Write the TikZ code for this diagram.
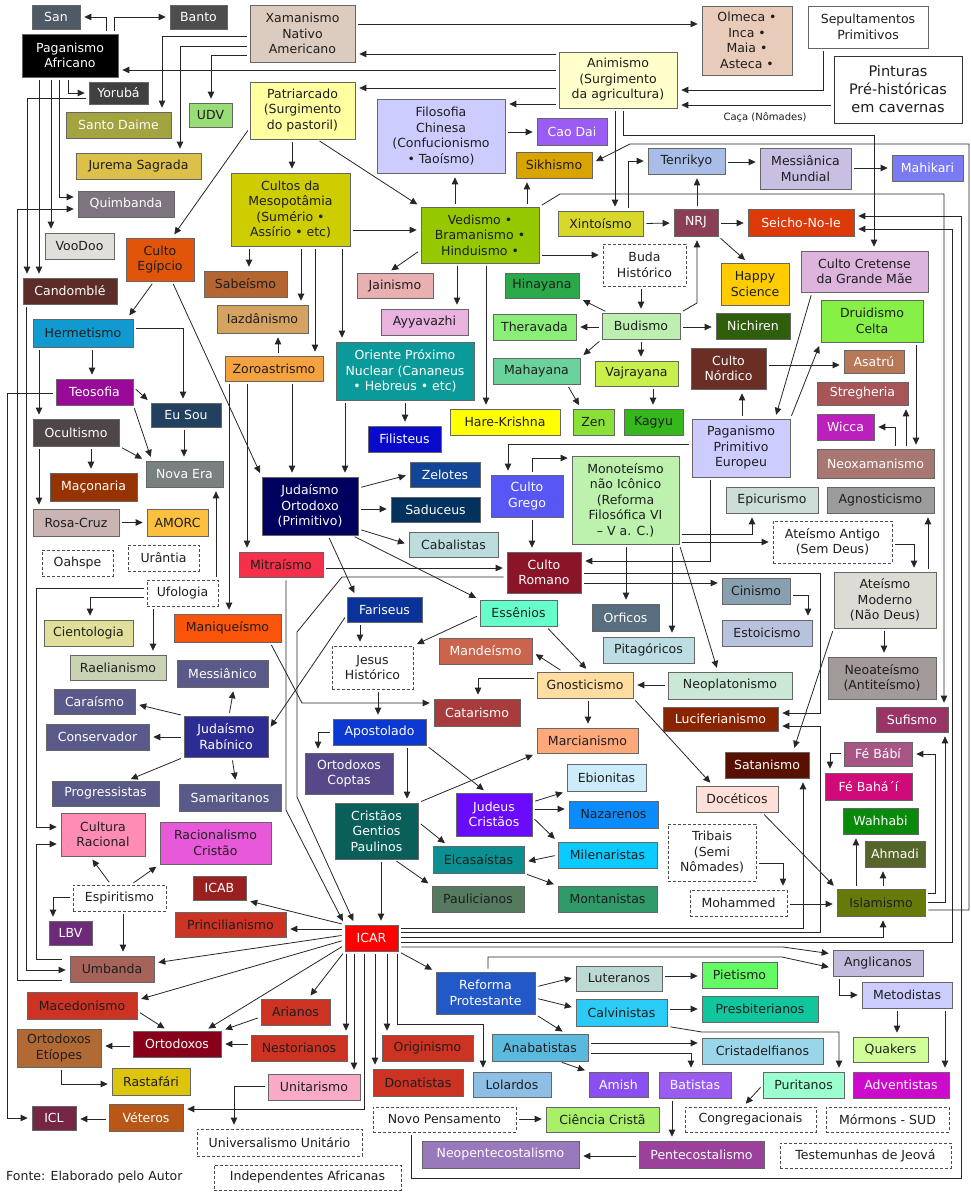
\documentclass[tikz,border=0pt]{standalone}
\usepackage{fontspec}
\setmainfont{DejaVu Sans}
\usetikzlibrary{arrows.meta}
\definecolor{tdk}{HTML}{1E1E1E}
\definecolor{lnc}{HTML}{262626}
\newcommand\relnode[8]{\definecolor{bxfill}{HTML}{#6}\node[box,fill=bxfill,text=#7,minimum width={(#4-#2)*1pt},minimum height={(#5-#3)*1pt}] (#1) at ({(#2+#4)/2},{(#3+#5)/2}) {#8};}
\newcommand\reldash[6]{\node[dbox,minimum width={(#4-#2)*1pt},minimum height={(#5-#3)*1pt}] (#1) at ({(#2+#4)/2},{(#3+#5)/2}) {#6};}
\begin{document}
\begin{tikzpicture}[x=1pt,y=-1pt,
  box/.style={draw=black!60,line width=0.7pt,inner sep=1pt,align=center,font=\fontsize{12.5}{15.5}\selectfont},
  dbox/.style={box,fill=white,text=tdk,draw=black!70,dash pattern=on 3pt off 2pt},
  arr/.style={draw=lnc,line width=0.8pt,-{Triangle[length=7pt,width=6.5pt]},shorten >=4pt,shorten <=3pt},
  ln/.style={draw=lnc,line width=0.8pt,shorten <=3pt}]
\fill[white] (0,0) rectangle (971,1192);
\useasboundingbox (0,0) rectangle (971,1192);
% ---------- nodes ----------
\relnode{san}{32}{5}{80}{29}{4F5A66}{white}{San}
\relnode{banto}{170}{5}{227}{29}{4D4D4D}{white}{Banto}
\relnode{pag}{22}{34}{118}{77}{000000}{white}{Paganismo\\Africano}
\relnode{xam}{250}{5}{355}{62}{DCCBBF}{tdk}{Xamanismo\\Nativo\\Americano}
\relnode{olm}{702}{6}{792}{75}{E9CBB9}{tdk}{Olmeca •\\Inca •\\Maia •\\Asteca •}
\relnode{sep}{808}{6}{928}{48}{FFFFFF}{tdk}{Sepultamentos\\Primitivos}
\node[box,fill=white,text=tdk,draw=black!80,minimum width=128pt,minimum height=67pt,font=\fontsize{14.5}{18}\selectfont] (pint) at (898,89.5) {Pinturas\\Pré-históricas\\em cavernas};
\relnode{anim}{559}{52}{677}{108}{FFFFCC}{tdk}{Animismo\\(Surgimento\\da agricultura)}
\relnode{yoruba}{89}{82}{148}{104}{404040}{white}{Yorubá}
\relnode{udv}{189}{103}{232}{127}{99DD77}{tdk}{UDV}
\relnode{santo}{66}{112}{171}{138}{A3A33F}{white}{Santo Daime}
\relnode{patr}{250}{82}{355}{139}{FFFFA0}{tdk}{Patriarcado\\(Surgimento\\do pastoril)}
\relnode{filchi}{377}{99}{505}{173}{CCCCFF}{tdk}{Filosofia\\Chinesa\\(Confucionismo\\• Taoísmo)}
\relnode{caodai}{537}{118}{607}{145}{9A5CF5}{white}{Cao Dai}
\relnode{sikh}{516}{152}{592}{178}{D9A300}{tdk}{Sikhismo}
\relnode{tenri}{648}{148}{725}{174}{A8BDE8}{tdk}{Tenrikyo}
\relnode{messm}{760}{148}{851}{189}{C9BFE3}{tdk}{Messiânica\\Mundial}
\relnode{mahik}{892}{155}{963}{181}{7A7AF5}{white}{Mahikari}
\relnode{jurema}{76}{153}{201}{179}{DCC04A}{tdk}{Jurema Sagrada}
\relnode{mesop}{231}{173}{350}{246}{CDCD00}{tdk}{Cultos da\\Mesopotâmia\\(Sumério •\\Assírio • etc)}
\relnode{quimb}{78}{191}{174}{217}{7D7480}{white}{Quimbanda}
\relnode{vedismo}{421}{207}{539}{263}{96C800}{tdk}{Vedismo •\\Bramanismo •\\Hinduismo •}
\relnode{xinto}{558}{211}{643}{236}{D8D82A}{tdk}{Xintoísmo}
\relnode{nrj}{674}{209}{718}{236}{8A3F55}{white}{NRJ}
\relnode{seicho}{748}{209}{854}{236}{DD3A0A}{white}{Seicho-No-Ie}
\relnode{voodoo}{45}{233}{114}{259}{E0E0D8}{tdk}{VooDoo}
\relnode{egip}{126}{238}{194}{281}{E0550A}{tdk}{Culto\\Egípcio}
\reldash{buda}{603}{244}{686}{286}{Buda\\Histórico}
\relnode{cretense}{801}{251}{928}{292}{DCB4DC}{tdk}{Culto Cretense\\da Grande Mãe}
\relnode{happy}{721}{263}{789}{305}{FFCC00}{tdk}{Happy\\Science}
\relnode{sabe}{204}{271}{287}{297}{B5652F}{tdk}{Sabeísmo}
\relnode{jain}{357}{273}{433}{298}{E8B0B0}{tdk}{Jainismo}
\relnode{hinay}{505}{273}{579}{298}{2AA84A}{tdk}{Hinayana}
\relnode{cand}{23}{278}{117}{304}{5C2C28}{white}{Candomblé}
\relnode{druid}{821}{300}{923}{342}{86F046}{tdk}{Druidismo\\Celta}
\relnode{iazd}{217}{305}{308}{333}{D5A35F}{tdk}{Iazdânismo}
\relnode{ayya}{381}{309}{468}{335}{E9B2DF}{tdk}{Ayyavazhi}
\relnode{thera}{493}{314}{576}{340}{8AEE78}{tdk}{Theravada}
\relnode{budismo}{602}{313}{680}{339}{BDF0B0}{tdk}{Budismo}
\relnode{nichiren}{716}{313}{790}{339}{2F5F0A}{white}{Nichiren}
\relnode{herm}{33}{319}{133}{347}{109AD0}{tdk}{Hermetismo}
\relnode{oriente}{336}{342}{474}{400}{0A9A9A}{white}{Oriente Próximo\\Nuclear (Cananeus\\• Hebreus • etc)}
\relnode{nordico}{691}{348}{766}{389}{6A2E25}{white}{Culto\\Nórdico}
\relnode{asatru}{844}{350}{904}{373}{B87858}{white}{Asatrú}
\relnode{zoro}{225}{356}{323}{381}{F4A23F}{tdk}{Zoroastrismo}
\relnode{mahay}{493}{358}{580}{384}{6AD39C}{tdk}{Mahayana}
\relnode{vajra}{595}{361}{678}{386}{C9F04A}{tdk}{Vajrayana}
\relnode{strega}{817}{382}{908}{405}{A85558}{white}{Stregheria}
\relnode{teos}{56}{379}{133}{405}{9A0A9A}{white}{Teosofia}
\relnode{euSou}{151}{403}{221}{427}{22405F}{white}{Eu Sou}
\relnode{hare}{450}{409}{560}{435}{FFFF00}{tdk}{Hare-Krishna}
\relnode{zen}{573}{409}{614}{435}{8AE036}{tdk}{Zen}
\relnode{kagyu}{624}{409}{683}{435}{36B81C}{tdk}{Kagyu}
\relnode{wicca}{817}{414}{874}{440}{BC20BC}{white}{Wicca}
\relnode{ocult}{33}{419}{119}{446}{4F4747}{white}{Ocultismo}
\relnode{ppe}{692}{419}{790}{477}{CCCCFF}{tdk}{Paganismo\\Primitivo\\Europeu}
\relnode{filis}{368}{426}{441}{452}{0A0ACC}{white}{Filisteus}
\relnode{neox}{817}{449}{934}{478}{A97771}{white}{Neoxamanismo}
\relnode{monot}{572}{456}{679}{544}{BCF2AE}{tdk}{Monoteísmo\\não Icônico\\(Reforma\\Filosófica VI\\– V a. C.)}
\relnode{novaEra}{146}{461}{223}{487}{788080}{white}{Nova Era}
\relnode{zelot}{410}{462}{480}{487}{124596}{white}{Zelotes}
\relnode{maco}{50}{473}{137}{501}{973300}{white}{Maçonaria}
\relnode{cgrego}{491}{475}{563}{517}{5757F5}{white}{Culto\\Grego}
\relnode{judort}{262}{477}{358}{535}{00005F}{white}{Judaísmo\\Ortodoxo\\(Primitivo)}
\relnode{epic}{726}{487}{818}{513}{CCDCD6}{tdk}{Epicurismo}
\relnode{agnos}{827}{487}{934}{513}{9C9C9C}{tdk}{Agnosticismo}
\relnode{sadu}{391}{497}{480}{522}{03325F}{white}{Saduceus}
\relnode{rosa}{33}{509}{119}{536}{C9B3B3}{tdk}{Rosa-Cruz}
\relnode{amorc}{147}{509}{208}{536}{FDBF3E}{tdk}{AMORC}
\reldash{ateAnt}{773}{521}{892}{563}{Ateísmo Antigo\\(Sem Deus)}
\relnode{cabal}{409}{532}{498}{557}{BCDCDE}{tdk}{Cabalistas}
\reldash{urant}{128}{545}{199}{571}{Urântia}
\reldash{oahspe}{42}{550}{113}{576}{Oahspe}
\relnode{mitra}{239}{552}{323}{577}{F5304A}{tdk}{Mitraísmo}
\relnode{cromano}{507}{552}{581}{593}{8A1428}{white}{Culto\\Romano}
\relnode{ateMod}{834}{572}{936}{628}{DCDCD4}{tdk}{Ateísmo\\Moderno\\(Não Deus)}
\relnode{cinismo}{722}{578}{790}{604}{88A0B0}{tdk}{Cinismo}
\reldash{ufol}{147}{580}{218}{606}{Ufologia}
\relnode{fari}{347}{597}{422}{622}{0A3399}{white}{Fariseus}
\relnode{essen}{480}{600}{557}{626}{66FFCC}{tdk}{Essênios}
\relnode{orficos}{592}{604}{659}{631}{566E80}{white}{Orficos}
\relnode{manique}{174}{614}{281}{642}{F9540A}{tdk}{Maniqueísmo}
\relnode{cientol}{44}{620}{133}{646}{E0E09A}{tdk}{Cientologia}
\relnode{estoic}{722}{620}{812}{646}{B9C2DD}{tdk}{Estoicismo}
\relnode{pitag}{603}{637}{694}{663}{BCDDE4}{tdk}{Pitagóricos}
\relnode{mande}{439}{638}{532}{664}{CA644C}{white}{Mandeísmo}
\reldash{jesus}{332}{646}{413}{689}{Jesus\\Histórico}
\relnode{raeli}{70}{655}{166}{680}{C9D3B4}{tdk}{Raelianismo}
\relnode{neoate}{828}{657}{936}{699}{A39A9A}{tdk}{Neoateísmo\\(Antiteísmo)}
\relnode{messico}{177}{660}{268}{687}{5A5A8A}{white}{Messiânico}
\relnode{gnost}{537}{672}{633}{698}{FFDCA0}{tdk}{Gnosticismo}
\relnode{neoplat}{668}{672}{792}{699}{CBE8D6}{tdk}{Neoplatonismo}
\relnode{carai}{54}{689}{135}{714}{5A5A8A}{white}{Caraísmo}
\relnode{catar}{434}{699}{520}{726}{A83C3C}{white}{Catarismo}
\relnode{lucif}{663}{707}{778}{731}{8A2300}{white}{Luciferianismo}
\relnode{sufi}{876}{707}{948}{732}{9A3366}{white}{Sufismo}
\relnode{judrab}{184}{716}{268}{757}{2C2C94}{white}{Judaísmo\\Rabínico}
\relnode{apost}{333}{719}{426}{745}{0A38D0}{white}{Apostolado}
\relnode{conserv}{46}{724}{149}{750}{5A5A8A}{white}{Conservador}
\relnode{marci}{537}{728}{638}{753}{FFA87A}{tdk}{Marcianismo}
\relnode{febabi}{844}{742}{912}{766}{A85585}{white}{Fé Bábí}
\relnode{satan}{725}{752}{809}{778}{581000}{white}{Satanismo}
\relnode{coptas}{305}{753}{393}{794}{574889}{white}{Ortodoxos\\Coptas}
\relnode{ebion}{567}{764}{646}{791}{CDECFB}{tdk}{Ebionitas}
\relnode{febahai}{825}{773}{912}{800}{D00A78}{white}{Fé Bahá´í}
\relnode{progr}{52}{781}{159}{806}{5A5A8A}{white}{Progressistas}
\relnode{samar}{179}{784}{281}{811}{5A5A8A}{white}{Samaritanos}
\relnode{docet}{696}{786}{778}{812}{FFE0D8}{tdk}{Docéticos}
\relnode{judcri}{456}{793}{532}{836}{6A0AFF}{white}{Judeus\\Cristãos}
\relnode{nazar}{569}{801}{658}{828}{0A8CFF}{tdk}{Nazarenos}
\relnode{cristG}{335}{803}{418}{859}{0A5F5A}{white}{Cristãos\\Gentios\\Paulinos}
\relnode{wahh}{843}{808}{918}{834}{0A8A0A}{white}{Wahhabi}
\relnode{cultRac}{61}{813}{145}{856}{FF8CB4}{tdk}{Cultura\\Racional}
\relnode{racCri}{160}{822}{271}{864}{E859D9}{tdk}{Racionalismo\\Cristão}
\reldash{tribais}{668}{824}{756}{881}{Tribais\\(Semi\\Nômades)}
\relnode{ahmadi}{865}{841}{925}{867}{55662A}{white}{Ahmadi}
\relnode{milen}{558}{842}{657}{868}{0ACAFF}{tdk}{Milenaristas}
\relnode{elcas}{433}{846}{524}{873}{0A9090}{tdk}{Elcasaístas}
\relnode{icab}{193}{876}{246}{900}{9A1F1F}{white}{ICAB}
\reldash{espir}{73}{885}{166}{911}{Espiritismo}
\relnode{paulic}{432}{886}{524}{912}{557A60}{tdk}{Paulicianos}
\relnode{montan}{558}{886}{657}{912}{2F9A6A}{tdk}{Montanistas}
\relnode{islam}{837}{889}{925}{916}{667A0A}{tdk}{Islamismo}
\reldash{moham}{690}{890}{787}{916}{Mohammed}
\relnode{princ}{175}{912}{286}{937}{CC3322}{tdk}{Princilianismo}
\relnode{icar}{345}{925}{398}{951}{FF0000}{white}{ICAR}
\relnode{lbv}{49}{921}{92}{945}{6C2A78}{white}{LBV}
\relnode{anglic}{833}{950}{923}{976}{C3BBDC}{tdk}{Anglicanos}
\relnode{umb}{70}{956}{154}{982}{A7625A}{tdk}{Umbanda}
\relnode{pietis}{702}{962}{777}{988}{63FB63}{tdk}{Pietismo}
\relnode{lutera}{576}{966}{662}{991}{BCD9D3}{tdk}{Luteranos}
\relnode{reforma}{436}{972}{535}{1014}{2258C8}{white}{Reforma\\Protestante}
\relnode{metod}{862}{982}{952}{1008}{CCCCFF}{tdk}{Metodistas}
\relnode{macedo}{27}{992}{137}{1019}{CC3322}{tdk}{Macedonismo}
\relnode{presb}{702}{996}{818}{1022}{11C59D}{tdk}{Presbiterianos}
\relnode{arian}{261}{999}{330}{1025}{CC3322}{tdk}{Arianos}
\relnode{calvin}{576}{999}{667}{1026}{2ACBF7}{tdk}{Calvinistas}
\relnode{ortodx}{133}{1031}{221}{1057}{88001A}{white}{Ortodoxos}
\relnode{etiop}{17}{1029}{101}{1067}{B26A35}{tdk}{Ortodoxos\\Etíopes}
\relnode{origin}{382}{1035}{473}{1061}{CC3322}{tdk}{Originismo}
\relnode{anabat}{492}{1034}{588}{1061}{5ABADE}{tdk}{Anabatistas}
\relnode{nestor}{251}{1035}{347}{1061}{CC3322}{tdk}{Nestorianos}
\relnode{quaker}{853}{1037}{928}{1062}{D0FF99}{tdk}{Quakers}
\relnode{cristad}{702}{1038}{823}{1064}{9AD6EA}{tdk}{Cristadelfianos}
\relnode{rasta}{112}{1068}{190}{1095}{DCC50A}{tdk}{Rastafári}
\relnode{donat}{373}{1069}{463}{1096}{CC3322}{tdk}{Donatistas}
\relnode{lolard}{473}{1072}{551}{1097}{8CBEE6}{tdk}{Lolardos}
\relnode{amish}{589}{1072}{648}{1097}{8A4FF0}{white}{Amish}
\relnode{batist}{659}{1072}{731}{1098}{9A5CF0}{white}{Batistas}
\relnode{purit}{763}{1072}{844}{1098}{9CFFD0}{tdk}{Puritanos}
\relnode{advent}{853}{1072}{949}{1098}{CC0ACC}{white}{Adventistas}
\relnode{unitar}{268}{1074}{360}{1100}{F8AAC6}{tdk}{Unitarismo}
\relnode{vetero}{109}{1104}{183}{1131}{B95816}{white}{Véteros}
\relnode{icl}{32}{1106}{76}{1130}{752546}{white}{ICL}
\reldash{novoP}{373}{1107}{516}{1132}{Novo Pensamento}
\relnode{ciencia}{546}{1107}{659}{1132}{A9EF6A}{tdk}{Ciência Cristã}
\reldash{congr}{685}{1107}{816}{1132}{Congregacionais}
\reldash{mormon}{826}{1107}{949}{1132}{Mórmons - SUD}
\reldash{univ}{197}{1129}{362}{1156}{Universalismo Unitário}
\relnode{neopent}{422}{1141}{579}{1168}{9A78BC}{white}{Neopentecostalismo}
\relnode{pentec}{639}{1141}{764}{1168}{9B409B}{white}{Pentecostalismo}
\reldash{testem}{780}{1143}{951}{1168}{Testemunhas de Jeová}
\reldash{indep}{214}{1165}{401}{1190}{Independentes Africanas}
\node[anchor=west,inner sep=0pt,text=tdk,font=\fontsize{12.5}{15}\selectfont] (fonte) at (6,1177) {Fonte: Elaborado pelo Autor};
\node[inner sep=0pt,text=tdk,font=\fontsize{10}{12}\selectfont] (caca) at (765,117) {Caça (Nômades)};
% ---------- connectors ----------
\draw[arr] (pag.north -| 106,0) |- (san.east);
\draw[arr] (pag.north -| 114,0) |- (banto.west);
\draw[arr] (xam.west |- 0,36) -| (santo.north -| 162,0);
\draw[arr] (xam.west |- 0,46) -| (jurema.north -| 180,0);
\draw[arr] (xam.west |- 0,55) -| (udv.north -| 211,0);
\draw[arr] (anim.west |- 0,70) -- (pag.east |- 0,70);
\draw[arr] (xam.east |- 0,24) -- (olm.west |- 0,24);
\draw[arr] (anim.west |- 0,54) -- (xam.east |- 0,54);
\draw[arr] (anim.west |- 0,88) -- (patr.east |- 0,88);
\draw[arr] (anim.west |- 0,104) -- (filchi.east |- 0,104);
\draw[arr] (sep.south -| 823,0) |- (anim.east |- 0,90);
\draw[arr] (pint.west |- 0,105) -- (anim.east |- 0,105);
\draw[arr] (pag.south -| 68,0) |- (yoruba.west);
\draw[arr] (yoruba.west |- 0,98) -| (cand.north -| 27,0);
\draw[arr] (pag.south -| 39,0) -- (cand.north -| 39,0);
\draw[arr] (pag.south -| 51,0) -- (voodoo.north -| 51,0);
\draw[arr] (pag.south -| 59,0) |- (quimb.west |- 0,197);
\draw[arr,shorten <=8pt] (umb.west |- 0,980) -| (17,209) -- (quimb.west |- 0,209);
\draw[arr] (cand.south -| 26,0) |- (umb.west |- 0,970);
\draw[arr,shorten <=8pt] (umb.west |- 0,959) -| (36,844) -- (cultRac.west |- 0,844);
\draw[arr] (ufol.west |- 0,588) -| (36,827) -- (cultRac.west |- 0,827);
\draw[arr] (ufol.west |- 0,597) -| (cientol.north -| 90,0);
\draw[arr] (ufol.south -| 153,0) -- (raeli.north -| 153,0);
\draw[arr] (ufol.north -| 216,0) -- (novaEra.south -| 216,0);
\draw[arr] (teos.west |- 0,393) -| (7,1118) -- (icl.west |- 0,1118);
\draw[arr] (espir.west |- 0,897) -| (lbv.north -| 53,0);
\draw[arr] (espir.south -| 123,0) -- (umb.north -| 123,0);
\draw[arr] (espir.north -| 111,0) -- (cultRac.south -| 90,0);
\draw[arr] (espir.north -| 131,0) -- (racCri.south west);
\draw[arr] (patr.west |- 0,128) -- (egip.north -| 172,0);
\draw[arr] (patr.south -| 292,0) -- (mesop.north -| 292,0);
\draw[arr] (patr.south -| 317,0) -- (vedismo.north west);
\draw[arr] (mesop.east |- 0,230) -- (vedismo.west |- 0,230);
\draw[arr] (mesop.south -| 249,0) -- (sabe.north -| 249,0);
\draw[arr] (mesop.south -| 301,0) -- (iazd.north -| 301,0);
\draw[arr] (mesop.south -| 315,0) -- (zoro.north -| 315,0);
\draw[arr] (mesop.south -| 342,0) -- (oriente.north -| 342,0);
\draw[arr] (zoro.north -| 278,0) -- (iazd.south -| 278,0);
\draw[arr] (zoro.south -| 247,0) -- (mitra.north -| 247,0);
\draw[arr] (zoro.south -| 292,0) -- (judort.north -| 292,0);
\draw[arr] (zoro.south -| 229,0) -- (manique.north -| 229,0);
\draw[arr] (egip.south -| 154,0) -- (herm.north -| 127,0);
\draw[arr] (egip.south -| 172,0) -- (judort.north west);
\draw[arr] (oriente.south -| 405,0) -- (filis.north -| 405,0);
\draw[arr] (oriente.south -| 345,0) -- (judort.north -| 345,0);
\draw[arr] (herm.east |- 0,328) -| (euSou.north -| 183,0);
\draw[arr] (herm.south -| 92,0) -- (teos.north -| 92,0);
\draw[arr] (herm.south -| 39,0) -- (ocult.north -| 39,0);
\draw[arr] (teos.east |- 0,387) -- (euSou.north west);
\draw[arr] (teos.south east) -- (novaEra.north -| 152,0);
\draw[arr] (euSou.south -| 184,0) -- (novaEra.north -| 184,0);
\draw[arr] (ocult.south east) -- (novaEra.north west);
\draw[arr] (ocult.south -| 91,0) -- (maco.north -| 91,0);
\draw[arr] (ocult.south -| 39,0) -- (rosa.north -| 39,0);
\draw[arr] (rosa.east) -- (amorc.west);
\draw[arr] (judort.east |- 0,488) -- (zelot.west);
\draw[arr] (judort.east |- 0,509) -- (sadu.west |- 0,509);
\draw[arr] (judort.east |- 0,529) -- (cabal.west);
\draw[arr] (judort.south -| 328,0) -- (fari.north -| 356,0);
\draw[arr] (judort.south -| 352,0) -- (essen.north west);
\draw[arr] (fari.west |- 0,615) -- (judrab.east |- 0,730);
\draw[arr] (fari.south -| 360,0) -- (jesus.north -| 360,0);
\draw[arr] (essen.west |- 0,615) -- (jesus.north east);
\draw[arr] (essen.south -| 546,0) -- (gnost.north -| 589,0);
\draw[arr] (gnost.north -| 563,0) -- (mande.east |- 0,652);
\draw[arr] (gnost.west |- 0,678) -| (catar.north -| 478,0);
\draw[arr] (gnost.south -| 588,0) -- (marci.north -| 588,0);
\draw[arr] (gnost.south east) -- (docet.north -| 713,0);
\draw[arr] (neoplat.west |- 0,685) -- (gnost.east |- 0,685);
\draw[arr] (jesus.south -| 378,0) -- (apost.north -| 378,0);
\draw[arr] (manique.south -| 270,0) -- (302,703) -- (catar.west |- 0,703);
\draw[arr] (apost.west |- 0,732) -| (coptas.north -| 318,0);
\draw[arr] (apost.south -| 407,0) -- (cristG.north -| 407,0);
\draw[arr] (apost.south east) -- (judcri.north -| 487,0);
\draw[arr] (cristG.north east) -- (marci.south west);
\draw[arr] (cristG.east |- 0,822) -- (elcas.north -| 448,0);
\draw[arr] (cristG.south -| 394,0) -- (paulic.north west);
\draw[arr] (cristG.south -| 381,0) -- (icar.north -| 381,0);
\draw[arr] (judcri.east |- 0,802) -- (ebion.south west);
\draw[arr] (judcri.east |- 0,809) -- (nazar.west |- 0,809);
\draw[arr] (judcri.east |- 0,817) -- (milen.north west);
\draw[arr] (milen.west |- 0,855) -- (elcas.east |- 0,862);
\draw[arr] (elcas.south east) -- (montan.north west);
\draw[arr] (judrab.north -| 229,0) -- (messico.south -| 234,0);
\draw[arr] (judrab.north west) -- (carai.east |- 0,704);
\draw[arr] (judrab.west |- 0,737) -- (conserv.east |- 0,737);
\draw[arr] (judrab.south west) -- (progr.north -| 127,0);
\draw[arr] (judrab.south -| 232,0) -- (samar.north -| 236,0);
\draw[arr] (mitra.south -| 286,0) -- (286,810) -- (icar.north west);
\draw[arr] (cromano.west |- 0,577) -- (342,577) -- (297,632) -- (297,797) -- (icar.north -| 355,0);
\draw[arr] (mitra.east |- 0,568) -- (cromano.west |- 0,568);
\draw[arr] (icar.north west) -- (icab.south east);
\draw[arr] (icar.west |- 0,929) -- (princ.east |- 0,929);
\draw[arr] (icar.west |- 0,935) -- (umb.east |- 0,963);
\draw[arr] (icar.west |- 0,940) -- (macedo.east |- 0,1000);
\draw[arr] (icar.west |- 0,945) -- (ortodx.north -| 205,0);
\draw[arr] (icar.south west) -- (arian.north -| 308,0);
\draw[arr] (macedo.east |- 0,1011) -- (ortodx.north -| 168,0);
\draw[arr] (arian.west |- 0,1017) -- (ortodx.north east);
\draw[arr] (nestor.west |- 0,1044) -- (ortodx.east |- 0,1044);
\draw[arr] (ortodx.west |- 0,1046) -- (etiop.east |- 0,1046);
\draw[arr] (etiop.south -| 61,0) |- (rasta.west |- 0,1084);
\draw[arr] (vetero.west |- 0,1119) -- (icl.east |- 0,1119);
\draw[arr] (icar.south -| 364,0) |- (vetero.east |- 0,1109);
\draw[arr] (unitar.west |- 0,1086) -| (univ.north -| 234,0);
\draw[arr] (icar.south -| 346,0) -- (nestor.north -| 346,0);
\draw[arr] (icar.south -| 354,0) -- (unitar.north -| 354,0);
\draw[arr] (icar.south -| 375,0) -- (donat.north -| 375,0);
\draw[arr] (icar.south -| 387,0) -- (origin.north -| 387,0);
\draw[arr] (icar.south -| 397,0) |- (483,1024) -- (lolard.north -| 483,0);
\draw[arr] (icar.south east) -- (reforma.north west);
\draw[arr] (icar.east |- 0,928) -| (satan.south -| 803,0);
\draw[arr] (icar.east |- 0,932) -| (820,726) -- (lucif.east |- 0,726);
\draw[arr] (icar.east |- 0,937) -| (islam.south -| 883,0);
\draw[arr] (icar.east |- 0,942) -| (952,229) -- (seicho.east |- 0,229);
\draw[arr] (icar.east |- 0,947) -- (783,947) -- (anglic.west |- 0,954);
\draw[arr] (reforma.north -| 488,0) |- (782,957) -- (anglic.west |- 0,968);
\draw[arr] (reforma.east |- 0,987) -- (lutera.west |- 0,977);
\draw[arr] (reforma.east |- 0,998) -- (calvin.west |- 0,1008);
\draw[arr] (reforma.south east) -- (anabat.north -| 566,0);
\draw[arr] (lutera.east |- 0,976) -- (pietis.west |- 0,976);
\draw[arr] (calvin.east |- 0,1009) -- (presb.west |- 0,1009);
\draw[arr] (calvin.south east) -- (702,1032) -| (purit.north -| 839,0);
\draw[arr] (anabat.east |- 0,1043) -- (cristad.west |- 0,1043);
\draw[arr] (anabat.east |- 0,1053) -| (batist.north -| 691,0);
\draw[arr] (anabat.south -| 559,0) -- (amish.north west);
\draw[arr] (purit.west |- 0,1085) -- (congr.north -| 743,0);
\draw[arr] (batist.south -| 672,0) -- (pentec.north -| 672,0);
\draw[arr] (pentec.west |- 0,1156) -- (neopent.east |- 0,1156);
\draw[arr] (novoP.east |- 0,1119) -- (ciencia.west |- 0,1119);
\draw[arr] (anglic.south -| 839,0) |- (metod.west);
\draw[arr] (metod.south -| 897,0) -- (quaker.north -| 897,0);
\draw[arr] (metod.south -| 945,0) -- (advent.north -| 945,0);
\draw[arr] (novoP.south -| 411,0) |- (961,1178) -- (961,216) -- (seicho.east |- 0,216);
\draw[arr] (islam.east |- 0,893) -| (935,754) -- (febabi.east |- 0,754);
\draw[arr] (febabi.west |- 0,753) -| (febahai.north -| 830,0);
\draw[arr] (islam.north -| 856,0) -- (wahh.south -| 856,0);
\draw[arr] (islam.north -| 883,0) -- (ahmadi.south -| 883,0);
\draw[arr] (docet.south -| 762,0) -- (islam.north west);
\draw[arr] (tribais.east |- 0,863) -| (moham.north -| 783,0);
\draw[arr] (moham.east |- 0,904) -- (islam.west |- 0,904);
\draw[arr] (islam.east |- 0,902) -| (sufi.south -| 945,0);
\draw[arr] (islam.east |- 0,910) -| (969,144) -- (630,144) -- (sikh.east |- 0,163);
\draw[arr] (vedismo.north east) -- (560,194) -| (sufi.north -| 944,0);
\draw[arr] (anim.south -| 623,0) |- (874,135) -- (cretense.north -| 874,0);
\draw[arr] (anim.south -| 615,0) -- (xinto.north -| 615,0);
\draw[arr] (xinto.east) -- (nrj.west |- 0,223);
\draw[arr] (nrj.east |- 0,223) -- (seicho.west |- 0,223);
\draw[arr] (nrj.south east) -- (happy.north -| 748,0);
\draw[arr] (nrj.north -| 697,0) -- (tenri.south -| 697,0);
\draw[arr] (tenri.east |- 0,162) -- (messm.west |- 0,162);
\draw[arr] (messm.east |- 0,168) -- (mahik.west |- 0,168);
\draw[arr] (budismo.north east) -- (697,303) -- (nrj.south -| 697,0);
\draw[arr] (xinto.north -| 628,0) |- (tenri.west |- 0,161);
\draw[arr] (vedismo.north -| 455,0) -- (filchi.south -| 455,0);
\draw[arr] (vedismo.north -| 527,0) -- (sikh.south -| 527,0);
\draw[arr] (filchi.east |- 0,132) -- (caodai.west |- 0,132);
\draw[arr] (vedismo.west |- 0,250) -- (jain.north -| 388,0);
\draw[arr] (vedismo.south -| 457,0) -- (ayya.north -| 457,0);
\draw[arr] (vedismo.south -| 486,0) -- (hare.north -| 486,0);
\draw[arr] (vedismo.east |- 0,255) -- (buda.west |- 0,255);
\draw[arr] (buda.south -| 641,0) -- (budismo.north -| 641,0);
\draw[arr] (budismo.north -| 608,0) -- (hinay.south east);
\draw[arr] (budismo.west |- 0,327) -- (thera.east |- 0,327);
\draw[arr] (budismo.south west) -- (mahay.north east);
\draw[arr] (budismo.south -| 641,0) -- (vajra.north -| 641,0);
\draw[arr] (budismo.east |- 0,327) -- (nichiren.west |- 0,327);
\draw[arr] (mahay.south -| 567,0) -- (zen.north -| 581,0);
\draw[arr] (vajra.south -| 653,0) -- (kagyu.north -| 653,0);
\draw[arr] (ppe.north -| 742,0) -- (nordico.south -| 742,0);
\draw[arr] (nordico.east |- 0,365) -- (asatru.west |- 0,365);
\draw[arr] (ppe.north east) -- (druid.south west);
\draw[arr] (cretense.south -| 812,0) -- (ppe.north -| 775,0);
\draw[arr] (druid.south -| 916,0) -- (neox.north -| 916,0);
\draw[arr] (neox.north -| 895,0) |- (wicca.east |- 0,427);
\draw[arr] (neox.north -| 906,0) -- (strega.south -| 906,0);
\draw[arr] (ppe.west |- 0,444) -| (cgrego.north -| 508,0);
\draw[arr] (cgrego.north -| 532,0) |- (monot.west |- 0,458);
\draw[arr] (cgrego.south -| 532,0) -- (cromano.north -| 532,0);
\draw[arr] (monot.south -| 626,0) -- (orficos.north -| 626,0);
\draw[arr] (monot.south -| 672,0) -- (pitag.north -| 672,0);
\draw[arr] (monot.south east) -- (neoplat.north -| 718,0);
\draw[arr] (monot.east |- 0,534) -| (epic.south -| 752,0);
\draw[arr] (monot.east |- 0,542) -- (ateAnt.west |- 0,542);
\draw[arr] (ppe.south -| 710,0) |- (cromano.east |- 0,561);
\draw[arr] (cromano.east |- 0,583) -- (cinismo.west |- 0,583);
\draw[arr] (cromano.east |- 0,573) -| (820,713) -- (lucif.east |- 0,713);
\draw[arr] (cinismo.east |- 0,595) -| (estoic.north -| 808,0);
\draw[arr] (ateAnt.east |- 0,544) -| (ateMod.north -| 914,0);
\draw[arr] (ateMod.north -| 928,0) -- (agnos.south -| 928,0);
\draw[arr] (ateMod.south -| 884,0) -- (neoate.north -| 884,0);
\draw[arr] (ateMod.south west) -- (satan.north -| 793,0);
\end{tikzpicture}
\end{document}
